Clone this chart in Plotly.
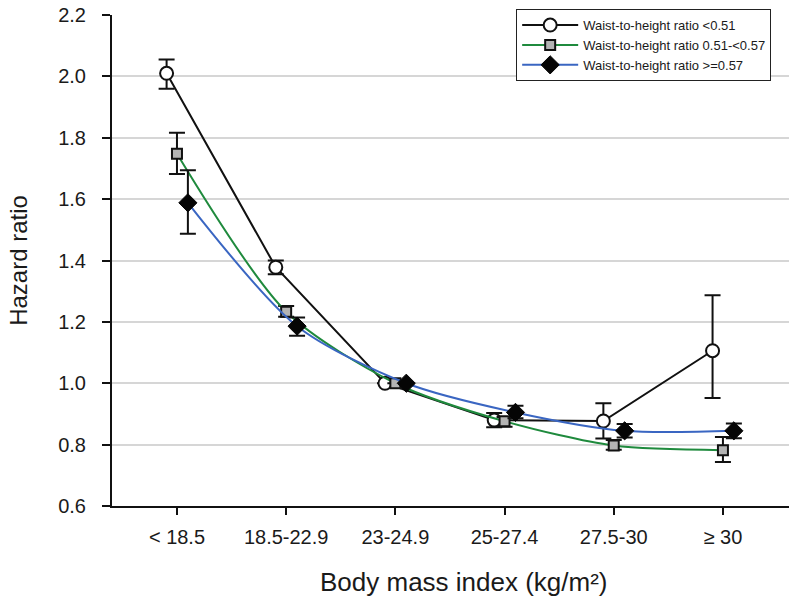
import plotly.graph_objects as go

# BMI categories on the x axis
categories = ["< 18.5", "18.5-22.9", "23-24.9", "25-27.4", "27.5-30", "≥ 30"]

# Hazard ratios with 95% CI, by waist-to-height ratio group
hr_low = [2.01, 1.378, 1.0, 0.88, 0.877, 1.106]
ci_low_lo = [1.96, 1.355, 1.0, 0.857, 0.82, 0.952]
ci_low_hi = [2.055, 1.40, 1.0, 0.903, 0.935, 1.287]

hr_mid = [1.748, 1.233, 1.0, 0.876, 0.797, 0.782]
ci_mid_lo = [1.682, 1.217, 1.0, 0.858, 0.783, 0.743]
ci_mid_hi = [1.816, 1.252, 1.0, 0.89, 0.815, 0.825]

hr_high = [1.588, 1.186, 1.0, 0.905, 0.845, 0.845]
ci_high_lo = [1.487, 1.155, 1.0, 0.886, 0.823, 0.821]
ci_high_hi = [1.694, 1.214, 1.0, 0.927, 0.867, 0.869]

series_names = [
    "Waist-to-height ratio <0.51",
    "Waist-to-height ratio 0.51-<0.57",
    "Waist-to-height ratio >=0.57",
]

FONT = "Liberation Sans, Arial, sans-serif"
TXT = "#1a1a1a"

groups = [
    dict(name=series_names[0], hr=hr_low, lo=ci_low_lo, hi=ci_low_hi, dx=-0.095,
         line=dict(color="#111111", width=2, shape="linear"),
         marker=dict(symbol="circle", size=13, color="white",
                     line=dict(color="#111111", width=2))),
    dict(name=series_names[1], hr=hr_mid, lo=ci_mid_lo, hi=ci_mid_hi, dx=0.0,
         line=dict(color="#1f8a3d", width=2, shape="spline", smoothing=0.8),
         marker=dict(symbol="square", size=10, color="#b4b4b4",
                     line=dict(color="#111111", width=2))),
    dict(name=series_names[2], hr=hr_high, lo=ci_high_lo, hi=ci_high_hi, dx=0.10,
         line=dict(color="#3a66c2", width=2, shape="spline", smoothing=0.8),
         marker=dict(symbol="diamond", size=14, color="#050505",
                     line=dict(color="#050505", width=1))),
]

fig = go.Figure()
for g in groups:
    xs = [i + g["dx"] for i in range(len(categories))]
    up = [h - v for h, v in zip(g["hi"], g["hr"])]
    dn = [v - l for v, l in zip(g["hr"], g["lo"])]
    fig.add_trace(go.Scatter(
        x=xs, y=g["hr"], name=g["name"], mode="lines+markers",
        line=g["line"], marker=g["marker"],
        error_y=dict(type="data", symmetric=False, array=up, arrayminus=dn,
                     color="#111111", thickness=2, width=8),
    ))

# x-axis title sits slightly right of the plot centre
fig.add_annotation(
    text="Body mass index (kg/m²)", xref="paper", yref="paper",
    x=0.52, y=-0.155, xanchor="center", yanchor="middle", showarrow=False,
    font=dict(size=26, family=FONT, color=TXT),
)

fig.update_layout(
    width=789, height=597,
    margin=dict(l=112, r=0, t=15, b=91),
    paper_bgcolor="white", plot_bgcolor="white",
    font=dict(family=FONT, color=TXT, size=20),
    showlegend=True,
    legend=dict(
        x=0.597, y=1.012, xanchor="left", yanchor="top",
        bordercolor="#222222", borderwidth=1, bgcolor="white",
        font=dict(family=FONT, size=13, color=TXT),
        itemwidth=56, tracegroupgap=0,
    ),
    xaxis=dict(
        range=[-0.595, 5.605], tickmode="array",
        tickvals=list(range(len(categories))), ticktext=categories,
        showgrid=False, zeroline=False,
        showline=True, linecolor="#111111", linewidth=2,
        ticks="outside", ticklen=7, tickwidth=2, tickcolor="#111111",
        ticklabelstandoff=5,
        tickfont=dict(size=20, family=FONT, color=TXT),
    ),
    yaxis=dict(
        range=[0.6, 2.2], tickmode="array",
        tickvals=[0.6, 0.8, 1.0, 1.2, 1.4, 1.6, 1.8, 2.0, 2.2],
        ticktext=["0.6", "0.8", "1.0", "1.2", "1.4", "1.6", "1.8", "2.0", "2.2"],
        showgrid=True, gridcolor="#d6d6d6", gridwidth=2, zeroline=False,
        showline=True, linecolor="#111111", linewidth=2,
        ticks="outside", ticklen=8, tickwidth=2, tickcolor="#111111",
        ticklabelstandoff=12,
        tickfont=dict(size=20, family=FONT, color=TXT),
        title=dict(text="Hazard ratio", standoff=24,
                   font=dict(size=24, family=FONT, color=TXT)),
    ),
)

fig.write_html("out.html")
